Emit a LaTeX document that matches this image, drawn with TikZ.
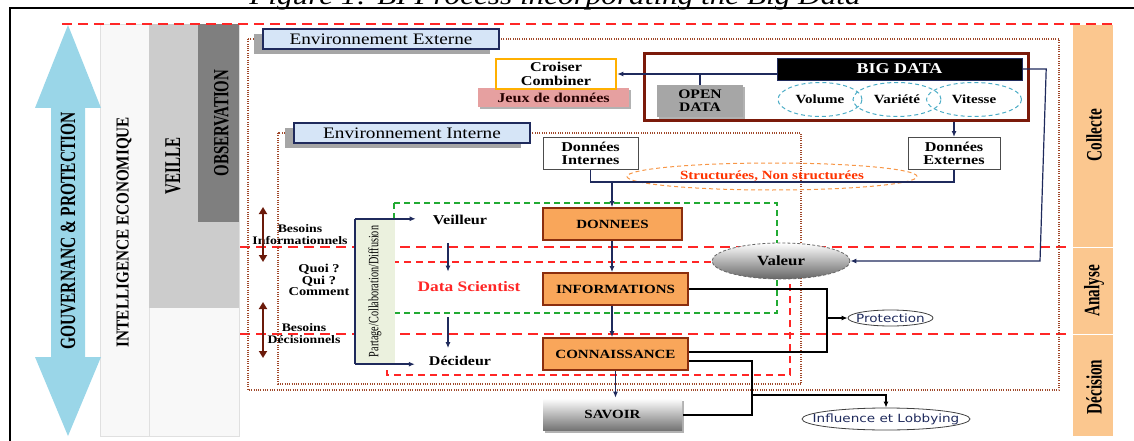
\documentclass[tikz,border=0pt]{standalone}
\usepackage{fontspec}
\usepackage{graphicx}
\setmainfont{Liberation Serif}
\newfontfamily\widefont[FakeStretch=1.2]{Liberation Serif}
\newfontfamily\widesans[FakeStretch=1.2]{DejaVu Sans}
\usetikzlibrary{arrows.meta,shapes.geometric,shadows}
\newcommand\fsz[2]{\fontsize{#1}{#2}\selectfont}
\definecolor{skyarrow}{HTML}{9AD6E8}
\definecolor{palegray}{HTML}{F8F8F8}
\definecolor{midgray}{HTML}{CCCCCC}
\definecolor{obsgray}{HTML}{7F7F7F}
\definecolor{peach}{HTML}{FBC78F}
\definecolor{envblue}{HTML}{D6E5F7}
\definecolor{inkblue}{HTML}{1F2A5C}
\definecolor{bigred}{HTML}{7B1A0A}
\definecolor{gold}{HTML}{FFB000}
\definecolor{jeuxpink}{HTML}{E6A0A0}
\definecolor{boxorange}{HTML}{F9A65A}
\definecolor{boxbrown}{HTML}{8B2E0E}
\definecolor{dotbrown}{HTML}{A0482A}
\definecolor{dashred}{HTML}{FF2626}
\definecolor{dashgreen}{HTML}{22AA33}
\definecolor{cyanring}{HTML}{4BACC6}
\definecolor{ringorange}{HTML}{F79646}
\definecolor{structred}{HTML}{FF3300}
\definecolor{partgreen}{HTML}{EBF1DE}
\definecolor{needbrown}{HTML}{6B1A0A}

\begin{document}
\begin{tikzpicture}[x=1pt,y=-1pt,>={Latex[length=6pt,width=5pt]},
  every node/.style={align=center,inner sep=0pt},
  sidetext/.style={rotate=90,font=\normalfont},
  envlabel/.style={draw=inkblue,line width=1.6pt,fill=envblue,minimum width=236pt,minimum height=20pt,
    font=\widefont\fsz{16}{18},general shadow={fill=black!35,shadow xshift=-9pt,shadow yshift=-5pt}},
  databox/.style={draw=black!70,line width=1pt,fill=white,minimum height=32pt,font=\widefont\bfseries\fsz{13.5}{13.5}},
  levelbox/.style={draw=boxbrown,line width=1.6pt,fill=boxorange,minimum width=139pt,minimum height=32pt,
    font=\widefont\bfseries\fsz{12.5}{14}},
  vring/.style={ellipse,draw=cyanring,dash pattern=on 4pt off 3pt,line width=1pt,minimum height=34pt,
    font=\widefont\bfseries\fsz{12.5}{14}},
  oval/.style={ellipse,draw=black!75,line width=0.8pt},
  ovaltext/.style={font=\widesans\fsz{11.3}{12},text=inkblue},
  actor/.style={font=\widefont\bfseries\fsz{13.5}{14}},
  needs/.style={font=\widefont\bfseries\fsz{11.5}{12}},
  link/.style={inkblue,line width=1.2pt},
  heavy/.style={black,line width=2pt},
  reddash/.style={dashred,line width=1.6pt,dash pattern=on 10pt off 6pt},
  envframe/.style={dotbrown,line width=1.1pt,dash pattern=on 1pt off 1.3pt},
  needarrow/.style={needbrown,line width=2.5pt,{Triangle[length=7pt,width=8pt]}-{Triangle[length=7pt,width=8pt]}}]
\useasboundingbox (0,0) rectangle (1134,441);
\node[font=\widefont\itshape\fsz{26}{26},anchor=base] (caption) at (555,5) {Figure 1: BI Process incorporating the Big Data};
\draw[line width=2.5pt] (10,441) -- (10,8) -- (1134,8);

\filldraw[fill=palegray,draw=black!12] (100,24) rectangle (239,436);
\draw[black!12] (149,24) -- (149,436);
\fill[midgray] (149,24) rectangle (239,308);
\fill[obsgray] (198,24) rectangle (239,222);
\filldraw[fill=peach,draw=white] (1072,24) rectangle (1113,247);
\filldraw[fill=peach,draw=white] (1072,247) rectangle (1113,334);
\filldraw[fill=peach,draw=white] (1072,334) rectangle (1113,436);
\fill[skyarrow] (68,25) -- (101,108) -- (85,108) -- (85,357) -- (101,357) -- (68,436)
  -- (35,357) -- (51,357) -- (51,108) -- (35,108) -- cycle;

\node[sidetext] (gouv) at (68,231) {\scalebox{1}[1.4]{\fsz{15.5}{16}\bfseries GOUVERNANC \& PROTECTION}};
\node[sidetext] (ie) at (124,232) {\scalebox{1}[1.2]{\fsz{15.2}{16}\bfseries INTELLIGENCE ECONOMIQUE}};
\node[sidetext] (veille) at (173,166) {\scalebox{1}[1.5]{\fsz{15}{16}\bfseries VEILLE}};
\node[sidetext] (observation) at (221.5,123) {\scalebox{1}[1.45]{\fsz{14.9}{16}\bfseries OBSERVATION}};
\node[sidetext] (collecte) at (1094,135) {\scalebox{1}[1.45]{\fsz{15.2}{16}\bfseries Collecte}};
\node[sidetext] (analyse) at (1094,291) {\scalebox{1}[1.45]{\fsz{15.2}{16}\bfseries Analyse}};
\node[sidetext] (decision) at (1094,387) {\scalebox{1}[1.45]{\fsz{15.2}{16}\bfseries Décision}};

\draw[reddash] (62,24) -- (1113,24);
\draw[reddash] (240,247) -- (1072,247);
\draw[reddash] (240,334) -- (1072,334);
\draw[envframe] (248,39) rectangle (1059,390);
\draw[envframe] (278,133) rectangle (801,384);
\draw[dashgreen,line width=1.8pt,dash pattern=on 6pt off 4pt] (394,203) rectangle (777,313);
\draw[dashred,line width=1.8pt,dash pattern=on 7pt off 5pt] (387,262) rectangle (790,375);

\node[envlabel] (envext) at (381,39) {Environnement Externe};
\node[envlabel] (envint) at (412,133) {Environnement Interne};

\node[draw=bigred,line width=3pt,minimum width=384pt,minimum height=67pt] (bigframe) at (836.5,87) {};
\node[fill=black,draw=inkblue,minimum width=245pt,minimum height=22pt,text=white,
  font=\widefont\bfseries\fsz{15}{16}] (bigdata) at (899.5,69) {BIG DATA};
\node[vring,minimum width=84pt] (volume) at (820,99.5) {Volume};
\node[vring,minimum width=88pt] (variete) at (897,99.5) {Variété};
\node[vring,minimum width=95pt] (vitesse) at (974,99.5) {Vitesse};
\node[fill=black!35,minimum width=86pt,minimum height=32pt,font=\widefont\bfseries\fsz{13}{13},
  drop shadow={shadow xshift=2pt,shadow yshift=-2pt,fill=black!30,opacity=1}] (opendata) at (700,101) {OPEN\\DATA};
\node[fill=jeuxpink,minimum width=151pt,minimum height=19pt,text=black!85!red,font=\widefont\bfseries\fsz{13.5}{14},
  drop shadow={shadow xshift=2pt,shadow yshift=-2pt,fill=black!30,opacity=1}] (jeux) at (553.5,97.5) {Jeux de données};
\node[databox,draw=gold,line width=2.5pt,minimum width=120pt,minimum height=30pt] (croiser) at (556,74) {Croiser\\Combiner};
\node[databox,minimum width=95pt] (dint) at (590.5,153.5) {Données\\Internes};
\node[databox,minimum width=92pt] (dext) at (954,153.5) {Données\\Externes};
\node[ellipse,draw=ringorange,dash pattern=on 4pt off 3pt,line width=1pt,minimum width=290pt,minimum height=27pt,
  text=structred,font=\widefont\bfseries\fsz{12.5}{13}] (kinds) at (772,176.5) {Structurées, Non structurées};

\node[levelbox] (donnees) at (612.5,224) {DONNEES};
\node[levelbox,minimum width=145pt] (infos) at (615.5,289) {INFORMATIONS};
\node[levelbox,minimum width=145pt] (conn) at (615.5,354) {CONNAISSANCE};
\node[levelbox,draw=none,top color=white,bottom color=black!55,
  drop shadow={shadow xshift=2pt,shadow yshift=-2pt,fill=black!30,opacity=1}] (savoir) at (612.5,414.5) {SAVOIR};

\node[fill=partgreen,minimum width=40pt,minimum height=145pt] (partage) at (375,291.5) {};
\node[sidetext] (partagetext) at (partage) {\scalebox{1}[1.4]{\fsz{10.2}{11}Partage/Collaboration/Diffusion}};
\node[actor] (veilleur) at (460,220) {Veilleur};
\node[actor,text=dashred,font=\widefont\bfseries\fsz{14.5}{15}] (datasci) at (469,287) {Data Scientist};
\node[actor,font=\widefont\bfseries\fsz{13.3}{14}] (decideur) at (460,361) {Décideur};
\node[needs] (infoneeds) at (300,235) {Besoins\\Informationnels};
\node[needs,font=\widefont\bfseries\fsz{12}{11.5}] (questions) at (319,280) {Quoi ?\\Qui ?\\Comment};
\node[needs] (decneeds) at (304,334) {Besoins\\Décisionnels};
\draw[needarrow] (263,207) -- (263,262);
\draw[needarrow] (263,302) -- (263,358);

\node[ellipse,draw=black!60,dash pattern=on 3pt off 2pt,line width=0.8pt,top color=white,bottom color=black!60,
  minimum width=138pt,minimum height=36pt,font=\widefont\bfseries\fsz{14}{14}] (valeur) at (781,261) {Valeur};
\node[oval,minimum width=85pt,minimum height=16pt] (protection) at (890.5,318) {};
\node[ovaltext] (protectiontext) at (protection) {Protection};
\node[oval,minimum width=168pt,minimum height=22pt] (influence) at (886,419) {};
\node[ovaltext] (influencetext) at (influence) {Influence et Lobbying};

\coordinate (merge) at (612,182);
\coordinate (protjoin) at (826,289);
\coordinate (lobjoin) at (752,395);
\draw[link,->] (bigdata.west |- croiser.east) -- (croiser.east);
\draw[link] (opendata.north) -- (opendata.north |- croiser.east);
\draw[link,->] (bigframe.south -| dext.north) -- (dext.north);
\draw[link] (dint.south) |- (merge) -| (dext.south);
\draw[link,->] (merge) -- (merge |- donnees.north);
\draw[link,->] (merge |- donnees.south) -- (merge |- infos.north);
\draw[link,->] (merge |- infos.south) -- (merge |- conn.north);
\draw[link,->] (conn.south) -- (conn.south |- savoir.north);
\draw[link,->] (bigdata.east) -- ++(24,0) -- (1040,261) -- (valeur.east);
\draw[link,line width=1.5pt,->,shorten >=17pt] (partage.north west) -- (partage.north west -| veilleur.west);
\draw[link,line width=1.5pt] (partage.north west) -- (partage.south west);
\draw[link,line width=1.5pt,->,shorten >=14pt] (partage.south west) -- (partage.south west -| decideur.west);
\draw[link,->,shorten <=18pt,shorten >=10pt] ([xshift=-12pt]veilleur.south) -- ([xshift=-12pt]veilleur.south |- datasci.north);
\draw[link,->,shorten <=25pt,shorten >=8pt] ([xshift=-12pt]veilleur.south |- datasci.south) -- ([xshift=-12pt]veilleur.south |- decideur.north);

\draw[heavy] (infos.east) -| ([xshift=138pt,yshift=2pt]conn.east) -- ([yshift=2pt]conn.east);
\draw[heavy,->] (protjoin |- protection.west) -- (protection.west);
\draw[heavy] ([yshift=-7pt]conn.east) -| (lobjoin) |- (savoir.east);
\draw[heavy,->] (lobjoin) -| (influence.north);
\end{tikzpicture}
\end{document}
